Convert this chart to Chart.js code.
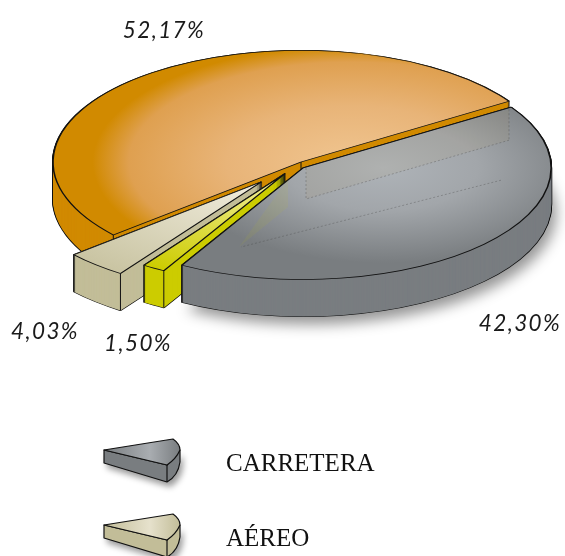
<!DOCTYPE html>
<html>
<head>
<meta charset="utf-8">
<style>
  html, body { margin: 0; padding: 0; background: #fff; }
  canvas { display: block; }
</style>
<script src="https://cdn.jsdelivr.net/npm/chart.js@4/dist/chart.umd.min.js"></script>
</head>
<body>
<canvas id="pie" width="565" height="556"></canvas>
<script>
// --- Datos ---
const categories = ['CARRETERA', 'amarillo', 'AÉREO', 'naranja'];
const shares = [42.30, 1.50, 4.03, 52.17];
const legendItems = ['CARRETERA', 'AÉREO'];

// --- Estilo ---
const wallColors = ['#797D80', '#CCCC00', '#C2BD98', '#D18A00'];
const explode = [3, 30, 59, 0];
const drop = [5, 0, 0, 0];
const paintOrder = [3, 2, 1, 0];
const labelSpots = [[520, 331], [138, 351], [45, 339], [164, 38]];
const squash = 0.45;
const depth = 37;

function topGradient(ctx, arc, i) {
    const r = arc.outerRadius;
    if (i === 0) {
        const g = ctx.createRadialGradient(arc.x + 80, arc.y, 0, arc.x + 80, arc.y, r * 0.85);
        g.addColorStop(0, '#AEB3B8');
        g.addColorStop(0.45, '#A2A6AA');
        g.addColorStop(1, '#797D80');
        return g;
    }
    if (i === 3) {
        const g = ctx.createRadialGradient(arc.x + 50, arc.y, 0, arc.x + 50, arc.y, r * 1.12);
        g.addColorStop(0, '#F0C590');
        g.addColorStop(0.45, '#E8B478');
        g.addColorStop(0.8, '#DFA050');
        g.addColorStop(0.93, '#D18A00');
        g.addColorStop(1, '#D18A00');
        return g;
    }
    const g = ctx.createRadialGradient(arc.x, arc.y, 0, arc.x, arc.y, r);
    if (i === 1) {
        g.addColorStop(0, '#F4F0A0');
        g.addColorStop(1, '#CCCC00');
    } else {
        g.addColorStop(0, '#F2EEDF');
        g.addColorStop(1, '#C9C4A2');
    }
    return g;
}

const pie3d = {
    id: 'pie3d',
    beforeDatasetsDraw(chart) {
        const ctx = chart.ctx;
        const arcs = chart.getDatasetMeta(0).data;

        function paint(i, dz, style) {
            const arc = arcs[i];
            const mid = (arc.startAngle + arc.endAngle) / 2;
            const base = arc.options;
            arc.options = Object.assign({}, base, style);
            ctx.save();
            ctx.translate(0, arc.y + drop[i] + dz);
            ctx.scale(1, squash);
            ctx.translate(0, -arc.y);
            ctx.translate(Math.cos(mid) * explode[i], Math.sin(mid) * explode[i]);
            arc.draw(ctx);
            ctx.restore();
            arc.options = base;
        }

        // punto del borde de una porción ya proyectado
        function rim(i, angle, dz) {
            const arc = arcs[i];
            const mid = (arc.startAngle + arc.endAngle) / 2;
            return [
                arc.x + Math.cos(mid) * explode[i] + Math.cos(angle) * arc.outerRadius,
                arc.y + drop[i] + dz + (Math.sin(mid) * explode[i] + Math.sin(angle) * arc.outerRadius) * squash
            ];
        }

        function seg(a, b) {
            ctx.beginPath();
            ctx.moveTo(a[0], a[1]);
            ctx.lineTo(b[0], b[1]);
            ctx.stroke();
        }

        paintOrder.forEach(i => {
            const arc = arcs[i];
            // sombra solo bajo la carretera
            if (i === 0) {
                ctx.save();
                ctx.shadowColor = 'rgba(0,0,0,0.42)';
                ctx.shadowBlur = 14;
                ctx.shadowOffsetX = 5;
                ctx.shadowOffsetY = 8;
                paint(i, depth, { backgroundColor: wallColors[i], borderWidth: 0 });
                ctx.restore();
            }
            for (let dz = depth; dz >= 0; dz--) {
                paint(i, dz, { backgroundColor: wallColors[i], borderColor: '#111', borderWidth: 2 });
            }
            for (let dz = depth; dz >= 0; dz--) {
                paint(i, dz, { backgroundColor: wallColors[i], borderWidth: 0 });
            }
            // aristas verticales
            ctx.strokeStyle = '#111';
            ctx.lineWidth = 1;
            if (i === 3) {
                seg(rim(3, arc.startAngle, 0), rim(3, arc.startAngle, 7));
                seg([arc.x, arc.y], [arc.x, arc.y + 7]);
            } else {
                [arc.startAngle, arc.endAngle].forEach(a => {
                    if (i === 0 && a === arc.startAngle) return;
                    seg(rim(i, a, 0), rim(i, a, depth));
                });
            }
            paint(i, 0, { backgroundColor: topGradient(ctx, arc, i), borderColor: '#111', borderWidth: 1.6 });
        });

        // restos translúcidos sobre la carretera
        const o = arcs[3];
        const a1 = rim(3, o.endAngle, 8), b1 = rim(3, o.endAngle, depth + 2);
        const apex = [o.x + 5, o.y + 6], apexLow = [o.x + 5, o.y + depth];
        ctx.save();
        ctx.fillStyle = 'rgba(209,138,0,0.045)';
        ctx.beginPath();
        ctx.moveTo(apex[0], apex[1]);
        ctx.lineTo(a1[0], a1[1]);
        ctx.lineTo(b1[0], b1[1]);
        ctx.lineTo(apexLow[0], apexLow[1]);
        ctx.closePath();
        ctx.fill();
        ctx.strokeStyle = 'rgba(60,60,60,0.3)';
        ctx.setLineDash([2, 2]);
        ctx.lineWidth = 1;
        seg(b1, apexLow);
        seg(apex, apexLow);
        seg(a1, b1);
        seg([b1[0] - 8, b1[1] + 40], [apexLow[0] - 65, apexLow[1] + 48]);

        // resto amarillo
        const yx = arcs[1].x - 16, yy = arcs[1].y + 11;
        ctx.fillStyle = 'rgba(204,204,0,0.08)';
        ctx.beginPath();
        ctx.moveTo(yx + 3, yy + 6);
        ctx.lineTo(yx - 46, yy + 74);
        ctx.lineTo(yx + 3, yy + 34);
        ctx.closePath();
        ctx.fill();
        ctx.restore();

        // porcentajes
        ctx.save();
        ctx.fillStyle = '#1a1a1a';
        ctx.font = "italic 22.5px Lato";
        ctx.letterSpacing = '1.4px';
        ctx.textAlign = 'center';
        ctx.textBaseline = 'alphabetic';
        chart.data.datasets[0].data.forEach((v, i) => {
            ctx.fillText(v.toFixed(2).replace('.', ',') + '%', labelSpots[i][0], labelSpots[i][1]);
        });
        ctx.restore();

        // leyenda
        legendItems.forEach((name, n) => {
            const i = chart.data.labels.indexOf(name);
            drawKey(ctx, n * 75, wallColors[i], i === 0 ? '#A9ADB1' : '#E6E1CC');
            ctx.save();
            ctx.fillStyle = '#111';
            ctx.font = "25px 'Liberation Serif'";
            ctx.textBaseline = 'alphabetic';
            ctx.fillText(name, 226, 471 + n * 75);
            ctx.restore();
        });
        return false;
    }
};

// muestra de la leyenda: una cuña pequeña
function drawKey(ctx, dy, wall, light) {
    const h = 17;
    ctx.save();
    ctx.translate(0, dy);
    ctx.lineJoin = 'round';
    ctx.strokeStyle = '#111';
    ctx.lineWidth = 1.2;

    // cuerpo
    ctx.save();
    ctx.shadowColor = 'rgba(0,0,0,0.4)';
    ctx.shadowBlur = 6;
    ctx.shadowOffsetX = 3;
    ctx.shadowOffsetY = 5;
    ctx.fillStyle = wall;
    ctx.beginPath();
    ctx.moveTo(104, 450);
    ctx.lineTo(104, 450 + h - 4);
    ctx.lineTo(167, 465 + h);
    ctx.quadraticCurveTo(178, 476, 180, 450 + h - 5);
    ctx.lineTo(180, 450);
    ctx.lineTo(167, 465);
    ctx.closePath();
    ctx.fill();
    ctx.restore();
    ctx.stroke();

    // arista
    ctx.beginPath();
    ctx.moveTo(167, 465);
    ctx.lineTo(167, 465 + h);
    ctx.stroke();

    // tapa
    const g = ctx.createLinearGradient(104, 0, 180, 0);
    g.addColorStop(0, wall);
    g.addColorStop(0.6, light);
    g.addColorStop(1, wall);
    ctx.fillStyle = g;
    ctx.beginPath();
    ctx.moveTo(104, 450);
    ctx.lineTo(173, 439);
    ctx.quadraticCurveTo(180, 444, 180, 450);
    ctx.quadraticCurveTo(176, 459, 167, 465);
    ctx.closePath();
    ctx.fill();
    ctx.stroke();
    ctx.restore();
}

new Chart(document.getElementById('pie').getContext('2d'), {
    type: 'pie',
    data: {
        labels: categories,
        datasets: [{
            data: shares,
            backgroundColor: wallColors,
            borderWidth: 0
        }]
    },
    options: {
        responsive: false,
        animation: false,
        devicePixelRatio: 1,
        rotation: 57,
        radius: 248,
        layout: { padding: { left: 37, right: 0, top: 0, bottom: 232 } },
        plugins: {
            legend: { display: false },
            tooltip: { enabled: false }
        }
    },
    plugins: [pie3d]
});
</script>
</body>
</html>
